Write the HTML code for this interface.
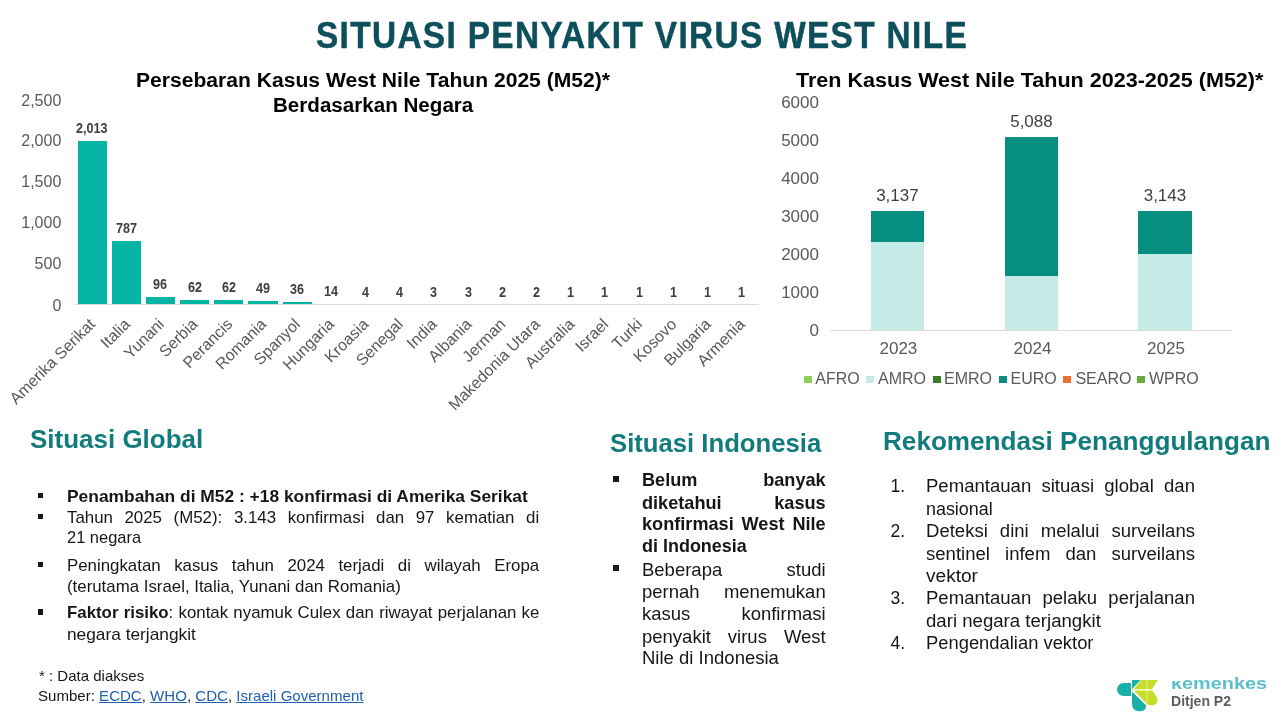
<!DOCTYPE html>
<html><head><meta charset="utf-8"><style>
html,body{margin:0;padding:0;}
body{width:1280px;height:720px;position:relative;overflow:hidden;background:#fff;font-family:"Liberation Sans", sans-serif;}
#wrap{position:absolute;left:0;top:0;width:1280px;height:720px;will-change:transform;}
</style></head><body><div id="wrap">
<div style="position:absolute;left:77.50px;top:141.24px;width:29.20px;height:162.56px;background:#03b5a2;"></div><div style="position:absolute;right:1192.90px;top:315.50px;font-size:16px;line-height:16px;color:#595959;white-space:nowrap;transform:rotate(-45deg);transform-origin:100% 0;">Amerika Serikat</div><div style="position:absolute;left:111.69px;top:240.80px;width:29.20px;height:63.00px;background:#03b5a2;"></div><div style="position:absolute;right:1158.71px;top:315.50px;font-size:16px;line-height:16px;color:#595959;white-space:nowrap;transform:rotate(-45deg);transform-origin:100% 0;">Italia</div><div style="position:absolute;left:145.88px;top:296.90px;width:29.20px;height:6.90px;background:#03b5a2;"></div><div style="position:absolute;right:1124.53px;top:315.50px;font-size:16px;line-height:16px;color:#595959;white-space:nowrap;transform:rotate(-45deg);transform-origin:100% 0;">Yunani</div><div style="position:absolute;left:180.06px;top:299.67px;width:29.20px;height:4.13px;background:#03b5a2;"></div><div style="position:absolute;right:1090.34px;top:315.50px;font-size:16px;line-height:16px;color:#595959;white-space:nowrap;transform:rotate(-45deg);transform-origin:100% 0;">Serbia</div><div style="position:absolute;left:214.25px;top:299.67px;width:29.20px;height:4.13px;background:#03b5a2;"></div><div style="position:absolute;right:1056.14px;top:315.50px;font-size:16px;line-height:16px;color:#595959;white-space:nowrap;transform:rotate(-45deg);transform-origin:100% 0;">Perancis</div><div style="position:absolute;left:248.44px;top:300.72px;width:29.20px;height:3.08px;background:#03b5a2;"></div><div style="position:absolute;right:1021.96px;top:315.50px;font-size:16px;line-height:16px;color:#595959;white-space:nowrap;transform:rotate(-45deg);transform-origin:100% 0;">Romania</div><div style="position:absolute;left:282.63px;top:301.78px;width:29.20px;height:2.02px;background:#03b5a2;"></div><div style="position:absolute;right:987.76px;top:315.50px;font-size:16px;line-height:16px;color:#595959;white-space:nowrap;transform:rotate(-45deg);transform-origin:100% 0;">Spanyol</div><div style="position:absolute;right:953.58px;top:315.50px;font-size:16px;line-height:16px;color:#595959;white-space:nowrap;transform:rotate(-45deg);transform-origin:100% 0;">Hungaria</div><div style="position:absolute;right:919.38px;top:315.50px;font-size:16px;line-height:16px;color:#595959;white-space:nowrap;transform:rotate(-45deg);transform-origin:100% 0;">Kroasia</div><div style="position:absolute;right:885.20px;top:315.50px;font-size:16px;line-height:16px;color:#595959;white-space:nowrap;transform:rotate(-45deg);transform-origin:100% 0;">Senegal</div><div style="position:absolute;right:851.00px;top:315.50px;font-size:16px;line-height:16px;color:#595959;white-space:nowrap;transform:rotate(-45deg);transform-origin:100% 0;">India</div><div style="position:absolute;right:816.82px;top:315.50px;font-size:16px;line-height:16px;color:#595959;white-space:nowrap;transform:rotate(-45deg);transform-origin:100% 0;">Albania</div><div style="position:absolute;right:782.62px;top:315.50px;font-size:16px;line-height:16px;color:#595959;white-space:nowrap;transform:rotate(-45deg);transform-origin:100% 0;">Jerman</div><div style="position:absolute;right:748.44px;top:315.50px;font-size:16px;line-height:16px;color:#595959;white-space:nowrap;transform:rotate(-45deg);transform-origin:100% 0;">Makedonia Utara</div><div style="position:absolute;right:714.25px;top:315.50px;font-size:16px;line-height:16px;color:#595959;white-space:nowrap;transform:rotate(-45deg);transform-origin:100% 0;">Australia</div><div style="position:absolute;right:680.06px;top:315.50px;font-size:16px;line-height:16px;color:#595959;white-space:nowrap;transform:rotate(-45deg);transform-origin:100% 0;">Israel</div><div style="position:absolute;right:645.87px;top:315.50px;font-size:16px;line-height:16px;color:#595959;white-space:nowrap;transform:rotate(-45deg);transform-origin:100% 0;">Turki</div><div style="position:absolute;right:611.68px;top:315.50px;font-size:16px;line-height:16px;color:#595959;white-space:nowrap;transform:rotate(-45deg);transform-origin:100% 0;">Kosovo</div><div style="position:absolute;right:577.49px;top:315.50px;font-size:16px;line-height:16px;color:#595959;white-space:nowrap;transform:rotate(-45deg);transform-origin:100% 0;">Bulgaria</div><div style="position:absolute;right:543.30px;top:315.50px;font-size:16px;line-height:16px;color:#595959;white-space:nowrap;transform:rotate(-45deg);transform-origin:100% 0;">Armenia</div><div style="position:absolute;left:75.00px;top:303.60px;width:684.00px;height:1.20px;background:#d9d9d9;"></div><div style="position:absolute;left:829.70px;top:329.60px;width:402.30px;height:1.20px;background:#d9d9d9;"></div><div style="position:absolute;left:870.75px;top:210.89px;width:53.30px;height:30.91px;background:#068f80;"></div><div style="position:absolute;left:870.75px;top:241.80px;width:53.30px;height:88.20px;background:#c5ebe7;"></div><div style="position:absolute;left:1004.80px;top:136.81px;width:53.30px;height:139.39px;background:#068f80;"></div><div style="position:absolute;left:1004.80px;top:276.20px;width:53.30px;height:53.80px;background:#c5ebe7;"></div><div style="position:absolute;left:1138.30px;top:210.66px;width:53.30px;height:42.94px;background:#068f80;"></div><div style="position:absolute;left:1138.30px;top:253.60px;width:53.30px;height:76.40px;background:#c5ebe7;"></div><div style="position:absolute;left:804.00px;top:375.60px;width:7.80px;height:7.80px;background:#8fd05a;"></div><div style="position:absolute;left:866.10px;top:375.60px;width:7.80px;height:7.80px;background:#c5ebe7;"></div><div style="position:absolute;left:933.40px;top:375.60px;width:7.80px;height:7.80px;background:#3a7d22;"></div><div style="position:absolute;left:999.30px;top:375.60px;width:7.80px;height:7.80px;background:#068f80;"></div><div style="position:absolute;left:1063.00px;top:375.60px;width:7.80px;height:7.80px;background:#e97132;"></div><div style="position:absolute;left:1137.00px;top:375.60px;width:7.80px;height:7.80px;background:#6aaa3c;"></div><div style="position:absolute;left:37.60px;top:492.70px;width:5.30px;height:5.30px;background:#161616;"></div><div style="position:absolute;left:37.60px;top:513.90px;width:5.30px;height:5.30px;background:#161616;"></div><div style="position:absolute;left:37.60px;top:562.10px;width:5.30px;height:5.30px;background:#161616;"></div><div style="position:absolute;left:37.60px;top:609.40px;width:5.30px;height:5.30px;background:#161616;"></div><div style="position:absolute;left:612.80px;top:475.80px;width:5.80px;height:5.80px;background:#161616;"></div><div style="position:absolute;left:612.80px;top:565.40px;width:5.80px;height:5.80px;background:#161616;"></div>
<div id="e0" style="position:absolute;top:16.68px;font-size:37px;line-height:37px;font-weight:700;color:#0d4f5b;white-space:nowrap;-webkit-text-stroke:0.5px #0d4f5b;letter-spacing:1.5px;left:315.60px;transform:scaleX(0.9018);transform-origin:0 0;">SITUASI PENYAKIT VIRUS WEST NILE</div><div id="e1" style="position:absolute;top:71.19px;font-size:19.5px;line-height:19.5px;font-weight:700;color:#000;white-space:nowrap;left:135.60px;transform:scaleX(1.0817);transform-origin:0 0;">Persebaran Kasus West Nile Tahun 2025 (M52)*</div><div id="e2" style="position:absolute;top:96.19px;font-size:19.5px;line-height:19.5px;font-weight:700;color:#000;white-space:nowrap;left:272.70px;transform:scaleX(1.0559);transform-origin:0 0;">Berdasarkan Negara</div><div id="e3" style="position:absolute;top:297.76px;font-size:16px;line-height:16px;font-weight:400;color:#595959;white-space:nowrap;left:52.39px;transform:scaleX(1.0000);transform-origin:0 0;">0</div><div id="e4" style="position:absolute;top:256.31px;font-size:16px;line-height:16px;font-weight:400;color:#595959;white-space:nowrap;left:34.60px;transform:scaleX(1.0000);transform-origin:0 0;">500</div><div id="e5" style="position:absolute;top:214.76px;font-size:16px;line-height:16px;font-weight:400;color:#595959;white-space:nowrap;left:21.25px;transform:scaleX(1.0000);transform-origin:0 0;">1,000</div><div id="e6" style="position:absolute;top:174.01px;font-size:16px;line-height:16px;font-weight:400;color:#595959;white-space:nowrap;left:21.25px;transform:scaleX(1.0000);transform-origin:0 0;">1,500</div><div id="e7" style="position:absolute;top:133.26px;font-size:16px;line-height:16px;font-weight:400;color:#595959;white-space:nowrap;left:21.25px;transform:scaleX(1.0000);transform-origin:0 0;">2,000</div><div id="e8" style="position:absolute;top:92.51px;font-size:16px;line-height:16px;font-weight:400;color:#595959;white-space:nowrap;left:21.25px;transform:scaleX(1.0000);transform-origin:0 0;">2,500</div><div id="e9" style="position:absolute;top:121.39px;font-size:14px;line-height:14px;font-weight:700;color:#404040;white-space:nowrap;left:76.32px;transform:scaleX(0.9000);transform-origin:0 0;">2,013</div><div id="e10" style="position:absolute;top:220.94px;font-size:14px;line-height:14px;font-weight:700;color:#404040;white-space:nowrap;left:115.77px;transform:scaleX(0.9000);transform-origin:0 0;">787</div><div id="e11" style="position:absolute;top:277.05px;font-size:14px;line-height:14px;font-weight:700;color:#404040;white-space:nowrap;left:153.46px;transform:scaleX(0.9000);transform-origin:0 0;">96</div><div id="e12" style="position:absolute;top:279.81px;font-size:14px;line-height:14px;font-weight:700;color:#404040;white-space:nowrap;left:187.65px;transform:scaleX(0.9000);transform-origin:0 0;">62</div><div id="e13" style="position:absolute;top:279.81px;font-size:14px;line-height:14px;font-weight:700;color:#404040;white-space:nowrap;left:221.84px;transform:scaleX(0.9000);transform-origin:0 0;">62</div><div id="e14" style="position:absolute;top:280.87px;font-size:14px;line-height:14px;font-weight:700;color:#404040;white-space:nowrap;left:256.03px;transform:scaleX(0.9000);transform-origin:0 0;">49</div><div id="e15" style="position:absolute;top:281.93px;font-size:14px;line-height:14px;font-weight:700;color:#404040;white-space:nowrap;left:290.22px;transform:scaleX(0.9000);transform-origin:0 0;">36</div><div id="e16" style="position:absolute;top:283.71px;font-size:14px;line-height:14px;font-weight:700;color:#404040;white-space:nowrap;left:324.41px;transform:scaleX(0.9000);transform-origin:0 0;">14</div><div id="e17" style="position:absolute;top:284.52px;font-size:14px;line-height:14px;font-weight:700;color:#404040;white-space:nowrap;left:362.11px;transform:scaleX(0.9000);transform-origin:0 0;">4</div><div id="e18" style="position:absolute;top:284.52px;font-size:14px;line-height:14px;font-weight:700;color:#404040;white-space:nowrap;left:396.30px;transform:scaleX(0.9000);transform-origin:0 0;">4</div><div id="e19" style="position:absolute;top:284.61px;font-size:14px;line-height:14px;font-weight:700;color:#404040;white-space:nowrap;left:430.49px;transform:scaleX(0.9000);transform-origin:0 0;">3</div><div id="e20" style="position:absolute;top:284.61px;font-size:14px;line-height:14px;font-weight:700;color:#404040;white-space:nowrap;left:464.68px;transform:scaleX(0.9000);transform-origin:0 0;">3</div><div id="e21" style="position:absolute;top:284.69px;font-size:14px;line-height:14px;font-weight:700;color:#404040;white-space:nowrap;left:498.87px;transform:scaleX(0.9000);transform-origin:0 0;">2</div><div id="e22" style="position:absolute;top:284.69px;font-size:14px;line-height:14px;font-weight:700;color:#404040;white-space:nowrap;left:533.06px;transform:scaleX(0.9000);transform-origin:0 0;">2</div><div id="e23" style="position:absolute;top:284.77px;font-size:14px;line-height:14px;font-weight:700;color:#404040;white-space:nowrap;left:567.25px;transform:scaleX(0.9000);transform-origin:0 0;">1</div><div id="e24" style="position:absolute;top:284.77px;font-size:14px;line-height:14px;font-weight:700;color:#404040;white-space:nowrap;left:601.44px;transform:scaleX(0.9000);transform-origin:0 0;">1</div><div id="e25" style="position:absolute;top:284.77px;font-size:14px;line-height:14px;font-weight:700;color:#404040;white-space:nowrap;left:635.63px;transform:scaleX(0.9000);transform-origin:0 0;">1</div><div id="e26" style="position:absolute;top:284.77px;font-size:14px;line-height:14px;font-weight:700;color:#404040;white-space:nowrap;left:669.82px;transform:scaleX(0.9000);transform-origin:0 0;">1</div><div id="e27" style="position:absolute;top:284.77px;font-size:14px;line-height:14px;font-weight:700;color:#404040;white-space:nowrap;left:704.01px;transform:scaleX(0.9000);transform-origin:0 0;">1</div><div id="e28" style="position:absolute;top:284.77px;font-size:14px;line-height:14px;font-weight:700;color:#404040;white-space:nowrap;left:738.20px;transform:scaleX(0.9000);transform-origin:0 0;">1</div><div id="e29" style="position:absolute;top:68.62px;font-size:21px;line-height:21px;font-weight:700;color:#000;white-space:nowrap;left:796.20px;transform:scaleX(1.0260);transform-origin:0 0;">Tren Kasus West Nile Tahun 2023-2025 (M52)*</div><div id="e30" style="position:absolute;top:321.71px;font-size:17px;line-height:17px;font-weight:400;color:#595959;white-space:nowrap;left:809.53px;transform:scaleX(1.0000);transform-origin:0 0;">0</div><div id="e31" style="position:absolute;top:283.74px;font-size:17px;line-height:17px;font-weight:400;color:#595959;white-space:nowrap;left:781.17px;transform:scaleX(1.0000);transform-origin:0 0;">1000</div><div id="e32" style="position:absolute;top:245.77px;font-size:17px;line-height:17px;font-weight:400;color:#595959;white-space:nowrap;left:781.17px;transform:scaleX(1.0000);transform-origin:0 0;">2000</div><div id="e33" style="position:absolute;top:207.80px;font-size:17px;line-height:17px;font-weight:400;color:#595959;white-space:nowrap;left:781.17px;transform:scaleX(1.0000);transform-origin:0 0;">3000</div><div id="e34" style="position:absolute;top:169.83px;font-size:17px;line-height:17px;font-weight:400;color:#595959;white-space:nowrap;left:781.17px;transform:scaleX(1.0000);transform-origin:0 0;">4000</div><div id="e35" style="position:absolute;top:131.86px;font-size:17px;line-height:17px;font-weight:400;color:#595959;white-space:nowrap;left:781.17px;transform:scaleX(1.0000);transform-origin:0 0;">5000</div><div id="e36" style="position:absolute;top:93.89px;font-size:17px;line-height:17px;font-weight:400;color:#595959;white-space:nowrap;left:781.17px;transform:scaleX(1.0000);transform-origin:0 0;">6000</div><div id="e37" style="position:absolute;top:187.20px;font-size:17px;line-height:17px;font-weight:400;color:#404040;white-space:nowrap;left:876.13px;transform:scaleX(1.0000);transform-origin:0 0;">3,137</div><div id="e38" style="position:absolute;top:339.51px;font-size:17px;line-height:17px;font-weight:400;color:#595959;white-space:nowrap;left:879.49px;transform:scaleX(1.0000);transform-origin:0 0;">2023</div><div id="e39" style="position:absolute;top:113.12px;font-size:17px;line-height:17px;font-weight:400;color:#404040;white-space:nowrap;left:1010.18px;transform:scaleX(1.0000);transform-origin:0 0;">5,088</div><div id="e40" style="position:absolute;top:339.51px;font-size:17px;line-height:17px;font-weight:400;color:#595959;white-space:nowrap;left:1013.54px;transform:scaleX(1.0000);transform-origin:0 0;">2024</div><div id="e41" style="position:absolute;top:186.97px;font-size:17px;line-height:17px;font-weight:400;color:#404040;white-space:nowrap;left:1143.68px;transform:scaleX(1.0000);transform-origin:0 0;">3,143</div><div id="e42" style="position:absolute;top:339.51px;font-size:17px;line-height:17px;font-weight:400;color:#595959;white-space:nowrap;left:1147.04px;transform:scaleX(1.0000);transform-origin:0 0;">2025</div><div id="e43" style="position:absolute;top:370.96px;font-size:16px;line-height:16px;font-weight:400;color:#595959;white-space:nowrap;left:815.30px;transform:scaleX(1.0000);transform-origin:0 0;">AFRO</div><div id="e44" style="position:absolute;top:370.96px;font-size:16px;line-height:16px;font-weight:400;color:#595959;white-space:nowrap;left:878.00px;transform:scaleX(1.0000);transform-origin:0 0;">AMRO</div><div id="e45" style="position:absolute;top:370.96px;font-size:16px;line-height:16px;font-weight:400;color:#595959;white-space:nowrap;left:944.00px;transform:scaleX(1.0000);transform-origin:0 0;">EMRO</div><div id="e46" style="position:absolute;top:370.96px;font-size:16px;line-height:16px;font-weight:400;color:#595959;white-space:nowrap;left:1010.50px;transform:scaleX(1.0000);transform-origin:0 0;">EURO</div><div id="e47" style="position:absolute;top:370.96px;font-size:16px;line-height:16px;font-weight:400;color:#595959;white-space:nowrap;left:1075.40px;transform:scaleX(1.0000);transform-origin:0 0;">SEARO</div><div id="e48" style="position:absolute;top:370.96px;font-size:16px;line-height:16px;font-weight:400;color:#595959;white-space:nowrap;left:1149.00px;transform:scaleX(1.0000);transform-origin:0 0;">WPRO</div><div id="e49" style="position:absolute;top:425.54px;font-size:26.3px;line-height:26.3px;font-weight:700;color:#127b7c;white-space:nowrap;left:30.00px;transform:scaleX(0.9877);transform-origin:0 0;">Situasi Global</div><div id="e50" style="position:absolute;top:429.54px;font-size:26.3px;line-height:26.3px;font-weight:700;color:#127b7c;white-space:nowrap;left:609.90px;transform:scaleX(0.9765);transform-origin:0 0;">Situasi Indonesia</div><div id="e51" style="position:absolute;top:427.74px;font-size:26.3px;line-height:26.3px;font-weight:700;color:#127b7c;white-space:nowrap;left:882.90px;transform:scaleX(0.9932);transform-origin:0 0;">Rekomendasi Penanggulangan</div><div id="e52" style="position:absolute;top:487.79px;font-size:16.2px;line-height:16.2px;font-weight:700;color:#161616;white-space:nowrap;left:66.60px;transform:scaleX(1.0742);transform-origin:0 0;">Penambahan di M52 : +18 konfirmasi di Amerika Serikat</div><div id="e53" style="position:absolute;top:508.79px;font-size:16.2px;line-height:16.2px;font-weight:400;color:#161616;white-space:nowrap;left:66.60px;width:454.04px;text-align:justify;text-align-last:justify;transform:scaleX(1.0400);transform-origin:0 0;">Tahun 2025 (M52): 3.143 konfirmasi dan 97 kematian di</div><div id="e54" style="position:absolute;top:529.19px;font-size:16.2px;line-height:16.2px;font-weight:400;color:#161616;white-space:nowrap;left:66.60px;transform:scaleX(1.0162);transform-origin:0 0;">21 negara</div><div id="e55" style="position:absolute;top:557.19px;font-size:16.2px;line-height:16.2px;font-weight:400;color:#161616;white-space:nowrap;left:66.60px;width:454.04px;text-align:justify;text-align-last:justify;transform:scaleX(1.0400);transform-origin:0 0;">Peningkatan kasus tahun 2024 terjadi di wilayah Eropa</div><div id="e56" style="position:absolute;top:577.79px;font-size:16.2px;line-height:16.2px;font-weight:400;color:#161616;white-space:nowrap;left:66.60px;transform:scaleX(1.0401);transform-origin:0 0;">(terutama Israel, Italia, Yunani dan Romania)</div><div id="e57" style="position:absolute;top:604.39px;font-size:16.2px;line-height:16.2px;font-weight:400;color:#161616;white-space:nowrap;left:66.60px;width:454.23px;text-align:justify;text-align-last:justify;transform:scaleX(1.0400);transform-origin:0 0;"><b>Faktor risiko</b>: kontak nyamuk Culex dan riwayat perjalanan ke</div><div id="e58" style="position:absolute;top:625.89px;font-size:16.2px;line-height:16.2px;font-weight:400;color:#161616;white-space:nowrap;left:66.60px;transform:scaleX(1.0680);transform-origin:0 0;">negara terjangkit</div><div id="e59" style="position:absolute;top:669.40px;font-size:14.3px;line-height:14.3px;font-weight:400;color:#161616;white-space:nowrap;left:38.60px;transform:scaleX(1.0505);transform-origin:0 0;">* : Data diakses</div><div id="e60" style="position:absolute;top:689.10px;font-size:14.3px;line-height:14.3px;font-weight:400;color:#161616;white-space:nowrap;left:37.75px;transform:scaleX(1.0529);transform-origin:0 0;">Sumber: <span style="color:#1f5fb4;text-decoration:underline">ECDC</span>, <span style="color:#1f5fb4;text-decoration:underline">WHO</span>, <span style="color:#1f5fb4;text-decoration:underline">CDC</span>, <span style="color:#1f5fb4;text-decoration:underline">Israeli Government</span></div><div id="e61" style="position:absolute;top:471.93px;font-size:17.8px;line-height:17.8px;font-weight:700;color:#161616;white-space:nowrap;left:641.90px;width:180.10px;text-align:justify;text-align-last:justify;transform:scaleX(1.0200);transform-origin:0 0;">Belum banyak</div><div id="e62" style="position:absolute;top:494.83px;font-size:17.8px;line-height:17.8px;font-weight:700;color:#161616;white-space:nowrap;left:641.90px;width:180.10px;text-align:justify;text-align-last:justify;transform:scaleX(1.0200);transform-origin:0 0;">diketahui kasus</div><div id="e63" style="position:absolute;top:516.23px;font-size:17.8px;line-height:17.8px;font-weight:700;color:#161616;white-space:nowrap;left:641.90px;width:180.10px;text-align:justify;text-align-last:justify;transform:scaleX(1.0200);transform-origin:0 0;">konfirmasi West Nile</div><div id="e64" style="position:absolute;top:538.23px;font-size:17.8px;line-height:17.8px;font-weight:700;color:#161616;white-space:nowrap;left:641.90px;transform:scaleX(1.0101);transform-origin:0 0;">di Indonesia</div><div id="e65" style="position:absolute;top:562.13px;font-size:17.8px;line-height:17.8px;font-weight:400;color:#161616;white-space:nowrap;left:641.90px;width:176.63px;text-align:justify;text-align-last:justify;transform:scaleX(1.0400);transform-origin:0 0;">Beberapa studi</div><div id="e66" style="position:absolute;top:584.13px;font-size:17.8px;line-height:17.8px;font-weight:400;color:#161616;white-space:nowrap;left:641.90px;width:176.63px;text-align:justify;text-align-last:justify;transform:scaleX(1.0400);transform-origin:0 0;">pernah menemukan</div><div id="e67" style="position:absolute;top:606.43px;font-size:17.8px;line-height:17.8px;font-weight:400;color:#161616;white-space:nowrap;left:641.90px;width:176.63px;text-align:justify;text-align-last:justify;transform:scaleX(1.0400);transform-origin:0 0;">kasus konfirmasi</div><div id="e68" style="position:absolute;top:628.73px;font-size:17.8px;line-height:17.8px;font-weight:400;color:#161616;white-space:nowrap;left:641.90px;width:176.63px;text-align:justify;text-align-last:justify;transform:scaleX(1.0400);transform-origin:0 0;">penyakit virus West</div><div id="e69" style="position:absolute;top:650.13px;font-size:17.8px;line-height:17.8px;font-weight:400;color:#161616;white-space:nowrap;left:641.90px;transform:scaleX(1.0413);transform-origin:0 0;">Nile di Indonesia</div><div id="e70" style="position:absolute;top:478.39px;font-size:17.5px;line-height:17.5px;font-weight:400;color:#161616;white-space:nowrap;left:890.50px;transform:scaleX(1.0000);transform-origin:0 0;">1.</div><div id="e71" style="position:absolute;top:478.39px;font-size:17.5px;line-height:17.5px;font-weight:400;color:#161616;white-space:nowrap;left:926.20px;width:253.77px;text-align:justify;text-align-last:justify;transform:scaleX(1.0600);transform-origin:0 0;">Pemantauan situasi global dan</div><div id="e72" style="position:absolute;top:501.39px;font-size:17.5px;line-height:17.5px;font-weight:400;color:#161616;white-space:nowrap;left:926.20px;transform:scaleX(1.0230);transform-origin:0 0;">nasional</div><div id="e73" style="position:absolute;top:523.29px;font-size:17.5px;line-height:17.5px;font-weight:400;color:#161616;white-space:nowrap;left:890.50px;transform:scaleX(1.0000);transform-origin:0 0;">2.</div><div id="e74" style="position:absolute;top:523.29px;font-size:17.5px;line-height:17.5px;font-weight:400;color:#161616;white-space:nowrap;left:926.20px;width:253.77px;text-align:justify;text-align-last:justify;transform:scaleX(1.0600);transform-origin:0 0;">Deteksi dini melalui surveilans</div><div id="e75" style="position:absolute;top:545.69px;font-size:17.5px;line-height:17.5px;font-weight:400;color:#161616;white-space:nowrap;left:926.20px;width:253.77px;text-align:justify;text-align-last:justify;transform:scaleX(1.0600);transform-origin:0 0;">sentinel infem dan surveilans</div><div id="e76" style="position:absolute;top:568.09px;font-size:17.5px;line-height:17.5px;font-weight:400;color:#161616;white-space:nowrap;left:926.20px;transform:scaleX(1.0890);transform-origin:0 0;">vektor</div><div id="e77" style="position:absolute;top:590.49px;font-size:17.5px;line-height:17.5px;font-weight:400;color:#161616;white-space:nowrap;left:890.50px;transform:scaleX(1.0000);transform-origin:0 0;">3.</div><div id="e78" style="position:absolute;top:590.49px;font-size:17.5px;line-height:17.5px;font-weight:400;color:#161616;white-space:nowrap;left:926.20px;width:253.77px;text-align:justify;text-align-last:justify;transform:scaleX(1.0600);transform-origin:0 0;">Pemantauan pelaku perjalanan</div><div id="e79" style="position:absolute;top:612.99px;font-size:17.5px;line-height:17.5px;font-weight:400;color:#161616;white-space:nowrap;left:926.20px;transform:scaleX(1.0632);transform-origin:0 0;">dari negara terjangkit</div><div id="e80" style="position:absolute;top:635.39px;font-size:17.5px;line-height:17.5px;font-weight:400;color:#161616;white-space:nowrap;left:890.50px;transform:scaleX(1.0000);transform-origin:0 0;">4.</div><div id="e81" style="position:absolute;top:635.39px;font-size:17.5px;line-height:17.5px;font-weight:400;color:#161616;white-space:nowrap;left:926.20px;transform:scaleX(1.0497);transform-origin:0 0;">Pengendalian vektor</div><div id="e82" style="position:absolute;top:676.26px;font-size:16px;line-height:16px;font-weight:700;color:#5bbfcb;white-space:nowrap;left:1171.20px;transform:scaleX(1.2418);transform-origin:0 0;">kemenkes</div><div id="e83" style="position:absolute;top:693.65px;font-size:14px;line-height:14px;font-weight:700;color:#5e5e60;white-space:nowrap;left:1171.20px;transform:scaleX(1.0016);transform-origin:0 0;">Ditjen P2</div>
<svg style="position:absolute;left:1110px;top:672px" width="60" height="44" viewBox="0 0 60 44">
<path d="M21 11 H13.5 A6.5 6.5 0 0 0 13.5 24 H21 Z" fill="#19b0aa"/>
<path d="M22 8 H30.5 L22 17.2 Z" fill="#19b0aa"/>
<path d="M22 19.5 L36 33.2 Q36.5 39.2 29.3 39.2 Q22 39.2 22 32 Z" fill="#19b0aa"/>
<path d="M31.2 8 H48 L42 17 H23.8 Z" fill="#c8dc2a"/>
<path d="M24 18.4 H42.2 L47.3 25.6 Q48.8 33.5 41.2 33.5 Q38 33.5 36.6 31.8 Z" fill="#c8dc2a"/>
<rect x="36.5" y="8" width="0.8" height="26" fill="#f4f8b0"/>
<rect x="23" y="17.2" width="19.5" height="1.1" fill="#f4f8b0"/>
</svg>
<div style="position:absolute;left:1170px;top:670px;width:14px;height:11px;background:#fff"></div>
</div></body></html>
